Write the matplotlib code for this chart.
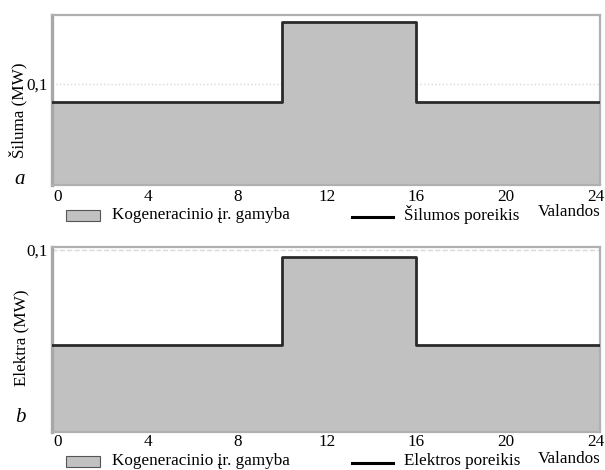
import matplotlib
matplotlib.use("Agg")
import matplotlib.pyplot as plt
from matplotlib.patches import Rectangle
from matplotlib.lines import Line2D

plt.rcParams['font.family'] = ['Liberation Serif', 'DejaVu Serif']

hours = [0, 10, 16, 24]
heat = [0.082, 0.161, 0.082]          # Šiluma (MW)
elec = [0.048, 0.096, 0.048]          # Elektra (MW)
xticks = [0, 4, 8, 12, 16, 20, 24]
ytick = 0.1

fig = plt.figure(figsize=(6.05, 4.7), dpi=100)
W, H = 605, 470
FS = 12.3

def mk_ax(left, top, right, bottom):
    return fig.add_axes([left / W, 1 - bottom / H, (right - left) / W, (bottom - top) / H])

ax1 = mk_ax(52, 15, 600, 185)
ax2 = mk_ax(52, 247, 600, 432)

def fx(px):
    return px / W

def fy(py):
    return 1 - py / H

def draw(ax, vals, ymax, ls, ylabel, ylab_xy, letter, letter_xy, val_y, xpad):
    xl = (-0.27, 24.2)
    ax.set_xlim(*xl)
    ax.set_ylim(0, ymax)
    xs = [xl[0]] + hours[1:-1] + [xl[1]]
    px, py = [], []
    for i, v in enumerate(vals):
        px += [xs[i], xs[i + 1]]
        py += [v, v]
    ax.fill_between(px, py, 0, color='#c1c1c1', lw=0, zorder=1)
    ax.plot(px, py, color='#2a2a2a', lw=2.0, zorder=3)
    ax.axhline(ytick, color='#d8d8d8', lw=1.0, ls=ls, zorder=0.5)
    ax.set_xticks(xticks)
    ax.set_xticklabels([str(t) for t in xticks], fontsize=FS)
    ax.set_yticks([ytick])
    ax.set_yticklabels(['0,1'], fontsize=FS)
    ax.tick_params(axis='x', length=0, pad=xpad)
    ax.tick_params(axis='y', length=0, pad=3)
    for s in ax.spines.values():
        s.set_color('#b0b0b0')
        s.set_linewidth(1.6)
    ax.spines['left'].set_color('#a8a8a8')
    ax.spines['left'].set_linewidth(2.4)
    fig.text(fx(ylab_xy[0]), fy(ylab_xy[1]), ylabel, fontsize=FS, rotation=90,
             ha='center', va='center')
    fig.text(fx(letter_xy[0]), fy(letter_xy[1]), letter, fontsize=15,
             style='italic', ha='center', va='center')
    fig.text(fx(601), fy(val_y), 'Valandos', fontsize=FS, ha='right', va='center')

draw(ax1, heat, 0.1683, ':', 'Šiluma (MW)', (18, 110), 'a', (20, 180), 212, 3)
draw(ax2, elec, 0.1017, '--', 'Elektra (MW)', (21, 338), 'b', (20, 418), 459, 1.5)

def legend_row(y, line_text):
    fig.patches.append(Rectangle((fx(66), fy(y + 6)), 34 / W, 11 / H,
                                 transform=fig.transFigure, facecolor='#c1c1c1',
                                 edgecolor='#555555', lw=0.8))
    fig.text(fx(112), fy(y), 'Kogeneracinio įr. gamyba', fontsize=FS, va='center')
    fig.lines.append(Line2D([fx(352), fx(393)], [fy(y + 2), fy(y + 2)],
                            transform=fig.transFigure, color='black', lw=2.2))
    fig.text(fx(404), fy(y), line_text, fontsize=FS, va='center')

legend_row(215, 'Šilumos poreikis')
legend_row(461, 'Elektros poreikis')

fig.savefig('out.png', dpi=100)
